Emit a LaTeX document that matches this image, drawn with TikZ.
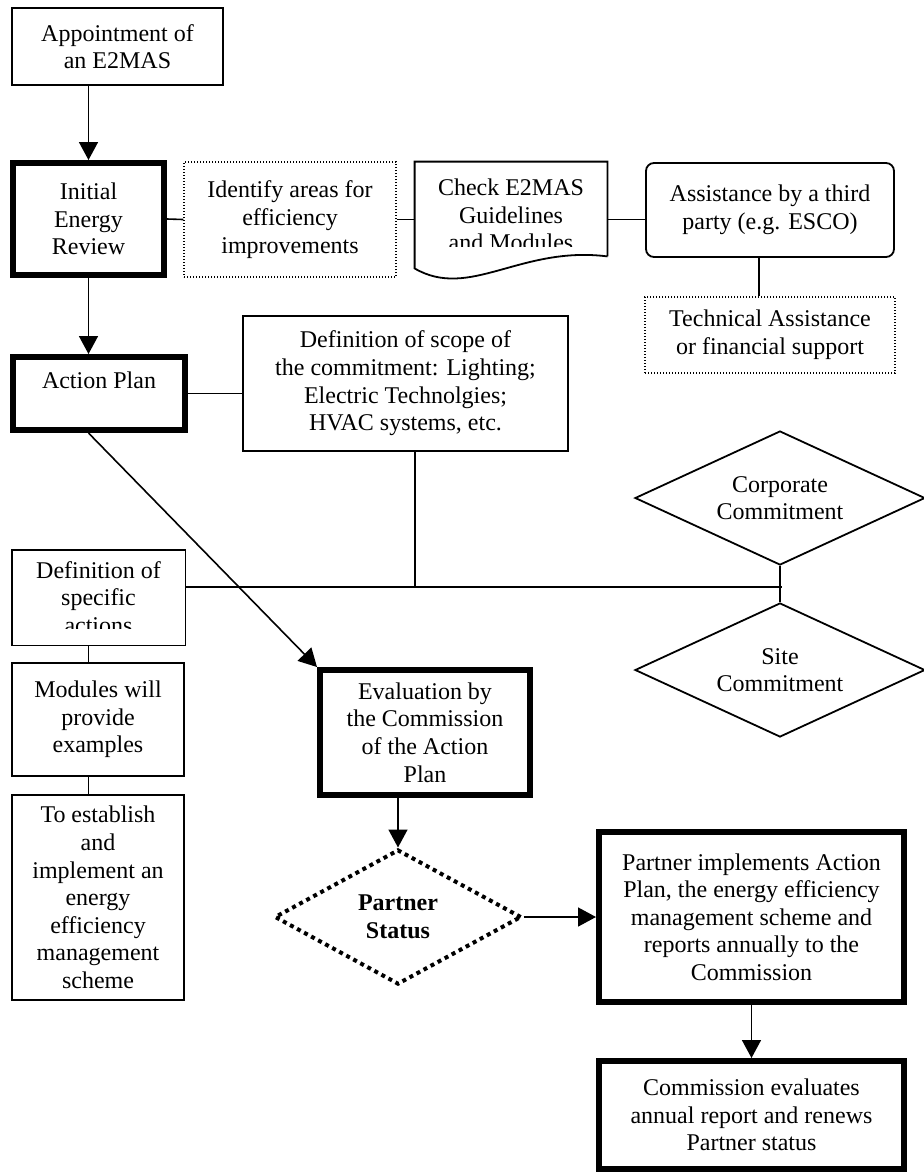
\documentclass[tikz,border=0pt]{standalone}
\usepackage{fontspec}
\setmainfont{Liberation Serif}
\usetikzlibrary{arrows.meta,shapes.geometric}
\tikzset{boxtext/.style={align=center, inner sep=2pt}}
\tikzset{flowbox/.style={boxtext, draw, line width=0.9pt}}
\tikzset{keybox/.style={boxtext, draw, line width=3pt}}
\tikzset{notebox/.style={boxtext, draw, line width=0.6pt, dash pattern=on 0.6pt off 0.9pt}}
\tikzset{choice/.style={diamond, draw, line width=0.9pt, align=center, inner sep=0pt, aspect=2.2}}
\tikzset{link/.style={line width=0.8pt}}
\tikzset{flowarrow/.style={link, -{Triangle[width=9.5pt,length=9pt]}}}

\begin{document}
\begin{tikzpicture}[x=0.5pt, y=-0.5pt, font=\fontsize{12}{13.8}\selectfont]
\useasboundingbox (0,0) rectangle (923,1175);
% left column
\node[flowbox, minimum width=105.5pt, minimum height=38.5pt] (appt) at (117.5,46.5) {Appointment of\\an E2MAS};
\node[keybox, minimum width=75.5pt, minimum height=56pt] (ier) at (88.5,219) {Initial\\Energy\\Review};
\node[keybox, minimum width=86pt, minimum height=36.5pt] (actplan) at (99,393.5) {Action Plan\\\mbox{}};
\begin{scope}
\clip (0,540) rectangle (200,628);
\node[boxtext, minimum width=86.5pt, minimum height=47.5pt] (def) at (98.5,597.5) {Definition of\\specific\\actions};
\end{scope}
\draw[line width=0.9pt] (def.north west) rectangle (def.south east);
\node[flowbox, minimum width=86pt, minimum height=56.5pt] (mod) at (98,719.5) {Modules will\\provide\\examples};
\node[flowbox, minimum width=86pt, minimum height=102.5pt] (est) at (98,897.5) {To establish\\and\\implement an\\energy\\efficiency\\management\\scheme};
% top row
\node[notebox, minimum width=106pt, minimum height=57.5pt] (areas) at (290,219.5) {Identify areas for\\efficiency\\improvements};
\begin{scope}
\clip (400,150) rectangle (620,246);
\node[boxtext, minimum width=96pt, minimum height=53pt] (guide) at (511,215) {Check E2MAS\\Guidelines\\and Modules};
\end{scope}
\draw[line width=0.9pt] ([yshift=6pt]guide.south east) -- (guide.north east) -- (guide.north west) -- (guide.south west) .. controls +(55,32) and +(-87,-11) .. ([yshift=6pt]guide.south east);
\node[flowbox, rounded corners=4pt, minimum width=124pt, minimum height=47pt] (esco) at (770,210) {Assistance by a third\\party (e.g. ESCO)};
\node[notebox, minimum width=125pt, minimum height=38pt] (tech) at (770,335) {Technical Assistance\\or financial support};
% middle
\node[flowbox, minimum width=162.5pt, minimum height=67.5pt] (scope) at (405.5,383.5) {Definition of scope of\\the commitment: Lighting;\\Electric Technolgies;\\HVAC systems, etc.};
\node[choice, minimum width=145pt, minimum height=67pt] (corp) at (780,498) {Corporate\\Commitment};
\node[choice, minimum width=145pt, minimum height=67pt] (site) at (780,670) {Site\\Commitment};
\coordinate (hub) at (782,587);
\node[keybox, minimum width=105pt, minimum height=62.5pt] (eval) at (425,732.5) {Evaluation by\\the Commission\\of the Action\\Plan};
\node[choice, aspect=1.83, line width=2pt, dash pattern=on 2pt off 2pt, minimum width=123.5pt, minimum height=67.5pt] (partner) at (398,917) {\textbf{Partner}\\\textbf{Status}};
% bottom right
\node[keybox, minimum width=152.5pt, minimum height=85pt] (impl) at (751.5,917) {Partner implements Action\\Plan, the energy efficiency\\management scheme and\\reports annually to the\\Commission};
\node[keybox, minimum width=152.5pt, minimum height=54pt] (renew) at (751.5,1115) {Commission evaluates\\annual report and renews\\Partner status};
% connectors
\draw[flowarrow] (appt.south -| ier) -- (ier.north);
\draw[flowarrow] (ier.south) -- (ier |- actplan.north);
\draw[link] (ier.east) -- (areas.west);
\draw[link] (areas.east) -- (areas.east -| guide.west);
\draw[link] (areas.east -| guide.east) -- (areas.east -| esco.west);
\draw[link] (esco.south -| 759,0) -- (tech.north -| 759,0);
\draw[link] (actplan.east) -- (actplan.east -| scope.west);
\draw[link] (scope.south -| 415,0) -- (hub -| 415,0);
\draw[link] (def.east |- hub) -- (hub);
\draw[link] (corp.south) -- (site.north);
\draw[flowarrow] (ier |- actplan.south) -- (eval.north west);
\draw[link] (def.south -| ier) -- (mod.north -| ier);
\draw[link] (mod.south -| ier) -- (est.north -| ier);
\draw[flowarrow] (eval.south -| partner.north) -- (partner.north);
\draw[flowarrow] (partner.east) -- (partner.east -| impl.west);
\draw[flowarrow] (impl.south) -- (renew.north);
\end{tikzpicture}
\end{document}
